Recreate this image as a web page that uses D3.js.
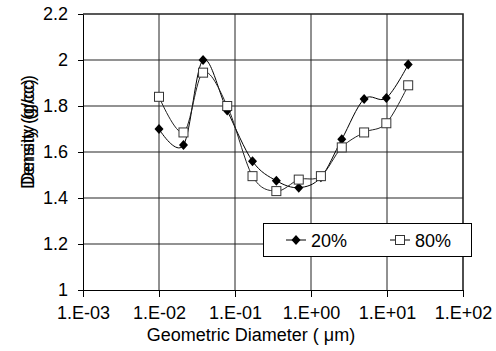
<!DOCTYPE html>
<html lang="en">
  <head>
    <meta charset="UTF-8" />
    <title>density</title>
    <script src="https://d3js.org/d3.v7.min.js"></script>
    <style>
      body { margin: 0; background: #fff; }
      text { font-family: "Liberation Sans", Arial, sans-serif; fill: #000; }
    </style>
  </head>
  <body>
    <script>
      // data
      var diametros = [0.01, 0.021, 0.038, 0.079, 0.17, 0.35, 0.69, 1.35, 2.54, 5.0, 9.8, 19];
      var dens20 = [1.70, 1.63, 2.00, 1.78, 1.56, 1.475, 1.445, 1.49, 1.655, 1.83, 1.835, 1.98];
      var dens80 = [1.84, 1.685, 1.945, 1.80, 1.495, 1.43, 1.48, 1.495, 1.62, 1.685, 1.725, 1.89];
      var series = ["20%", "80%"];
      var xTicks = [1e-3, 1e-2, 1e-1, 1e0, 1e1, 1e2];
      var yTicks = [1, 1.2, 1.4, 1.6, 1.8, 2, 2.2];

      var w = 496, h = 351;
      var svg = d3.select("body").append("svg").attr("width", w).attr("height", h);

      var x = d3.scaleLog().domain([1e-3, 1e2]).range([83, 463]);
      var y = d3.scaleLinear().domain([1, 2.2]).range([290, 14]);

      // grid horizontal (gris) y vertical (negro)
      svg.append("g")
        .selectAll("line")
        .data(yTicks.slice(1, -1))
        .enter()
        .append("line")
        .attr("x1", x(1e-3)).attr("x2", x(1e2))
        .attr("y1", (d) => y(d)).attr("y2", (d) => y(d))
        .attr("stroke", "#6e6e6e")
        .attr("stroke-width", 1.4);

      svg.append("g")
        .selectAll("line")
        .data(xTicks.slice(1, -1))
        .enter()
        .append("line")
        .attr("x1", (d) => x(d)).attr("x2", (d) => x(d))
        .attr("y1", y(2.2)).attr("y2", y(1))
        .attr("stroke", "#222")
        .attr("stroke-width", 1);

      // marco superior y derecho
      svg.append("path")
        .attr("d", "M" + x(1e-3) + "," + y(2.2) + "H" + x(1e2) + "V" + y(1))
        .attr("fill", "none")
        .attr("stroke", "#222")
        .attr("stroke-width", 1.6);

      // ejes
      var fmtX = function (d) {
        var e = Math.round(Math.log10(d));
        return "1.E" + (e < 0 ? "-" : "+") + String(Math.abs(e)).padStart(2, "0");
      };

      var gx = svg.append("g")
        .attr("transform", "translate(0," + y(1) + ")")
        .call(d3.axisBottom(x).tickValues(xTicks).tickFormat(fmtX).tickSize(7).tickSizeOuter(0).tickPadding(9));
      var gy = svg.append("g")
        .attr("transform", "translate(" + x(1e-3) + ",0)")
        .call(d3.axisLeft(y).tickValues(yTicks).tickFormat(d3.format("")).tickSize(5).tickSizeOuter(0).tickPadding(10));

      [gx, gy].forEach(function (g) {
        g.select(".domain").attr("stroke", "#000");
        g.selectAll(".tick line").attr("stroke", "#000");
        g.selectAll("text").attr("font-size", 18).attr("font-family", "Liberation Sans");
      });

      // titulos
      svg.append("text")
        .attr("x", 251).attr("y", 341)
        .attr("text-anchor", "middle")
        .attr("font-size", 18)
        .text("Geometric Diameter ( \u03bcm)");

      // el titulo Y aparece doble en la imagen
      [0, 4].forEach(function (off) {
        svg.append("text")
          .attr("transform", "translate(34," + (134 - off) + ") rotate(-90)")
          .attr("text-anchor", "middle")
          .attr("font-size", 18)
          .text("Density (g/cc)");
      });

      // lineas suavizadas
      var linea = d3.line()
        .x((d) => x(d[0]))
        .y((d) => y(d[1]))
        .curve(d3.curveCatmullRom.alpha(0));

      var datos = [d3.zip(diametros, dens20), d3.zip(diametros, dens80)];

      datos.forEach(function (pts, i) {
        svg.append("path")
          .datum(pts)
          .attr("d", linea)
          .attr("fill", "none")
          .attr("stroke", i == 0 ? "#000" : "#222")
          .attr("stroke-width", 1);
      });

      function marcador(g, i, cx, cy) {
        if (i == 0) {
          g.append("path")
            .attr("d", "M" + cx + "," + (cy - 5) + "L" + (cx + 4.5) + "," + cy + "L" + cx + "," + (cy + 5) + "L" + (cx - 4.5) + "," + cy + "Z")
            .attr("fill", "#000");
        } else {
          g.append("rect")
            .attr("x", cx - 4.5).attr("y", cy - 4.5)
            .attr("width", 9).attr("height", 9)
            .attr("fill", "#fff")
            .attr("stroke", "#333")
            .attr("stroke-width", 1);
        }
      }

      datos.forEach(function (pts, i) {
        var g = svg.append("g");
        pts.forEach(function (p) {
          marcador(g, i, x(p[0]), y(p[1]));
        });
      });

      // leyenda
      var ley = svg.append("g");
      ley.append("rect")
        .attr("x", 263.5).attr("y", 223.5)
        .attr("width", 208).attr("height", 33)
        .attr("fill", "#fff")
        .attr("stroke", "#000")
        .attr("stroke-width", 1);

      series.forEach(function (s, i) {
        var cx = 296 + i * 104;
        ley.append("line")
          .attr("x1", cx - 10).attr("x2", cx + 10)
          .attr("y1", 240).attr("y2", 240)
          .attr("stroke", "#000");
        marcador(ley, i, cx, 240);
        ley.append("text")
          .attr("x", cx + 15).attr("y", 246.5)
          .attr("font-size", 18)
          .text(s);
      });
    </script>
  </body>
</html>
